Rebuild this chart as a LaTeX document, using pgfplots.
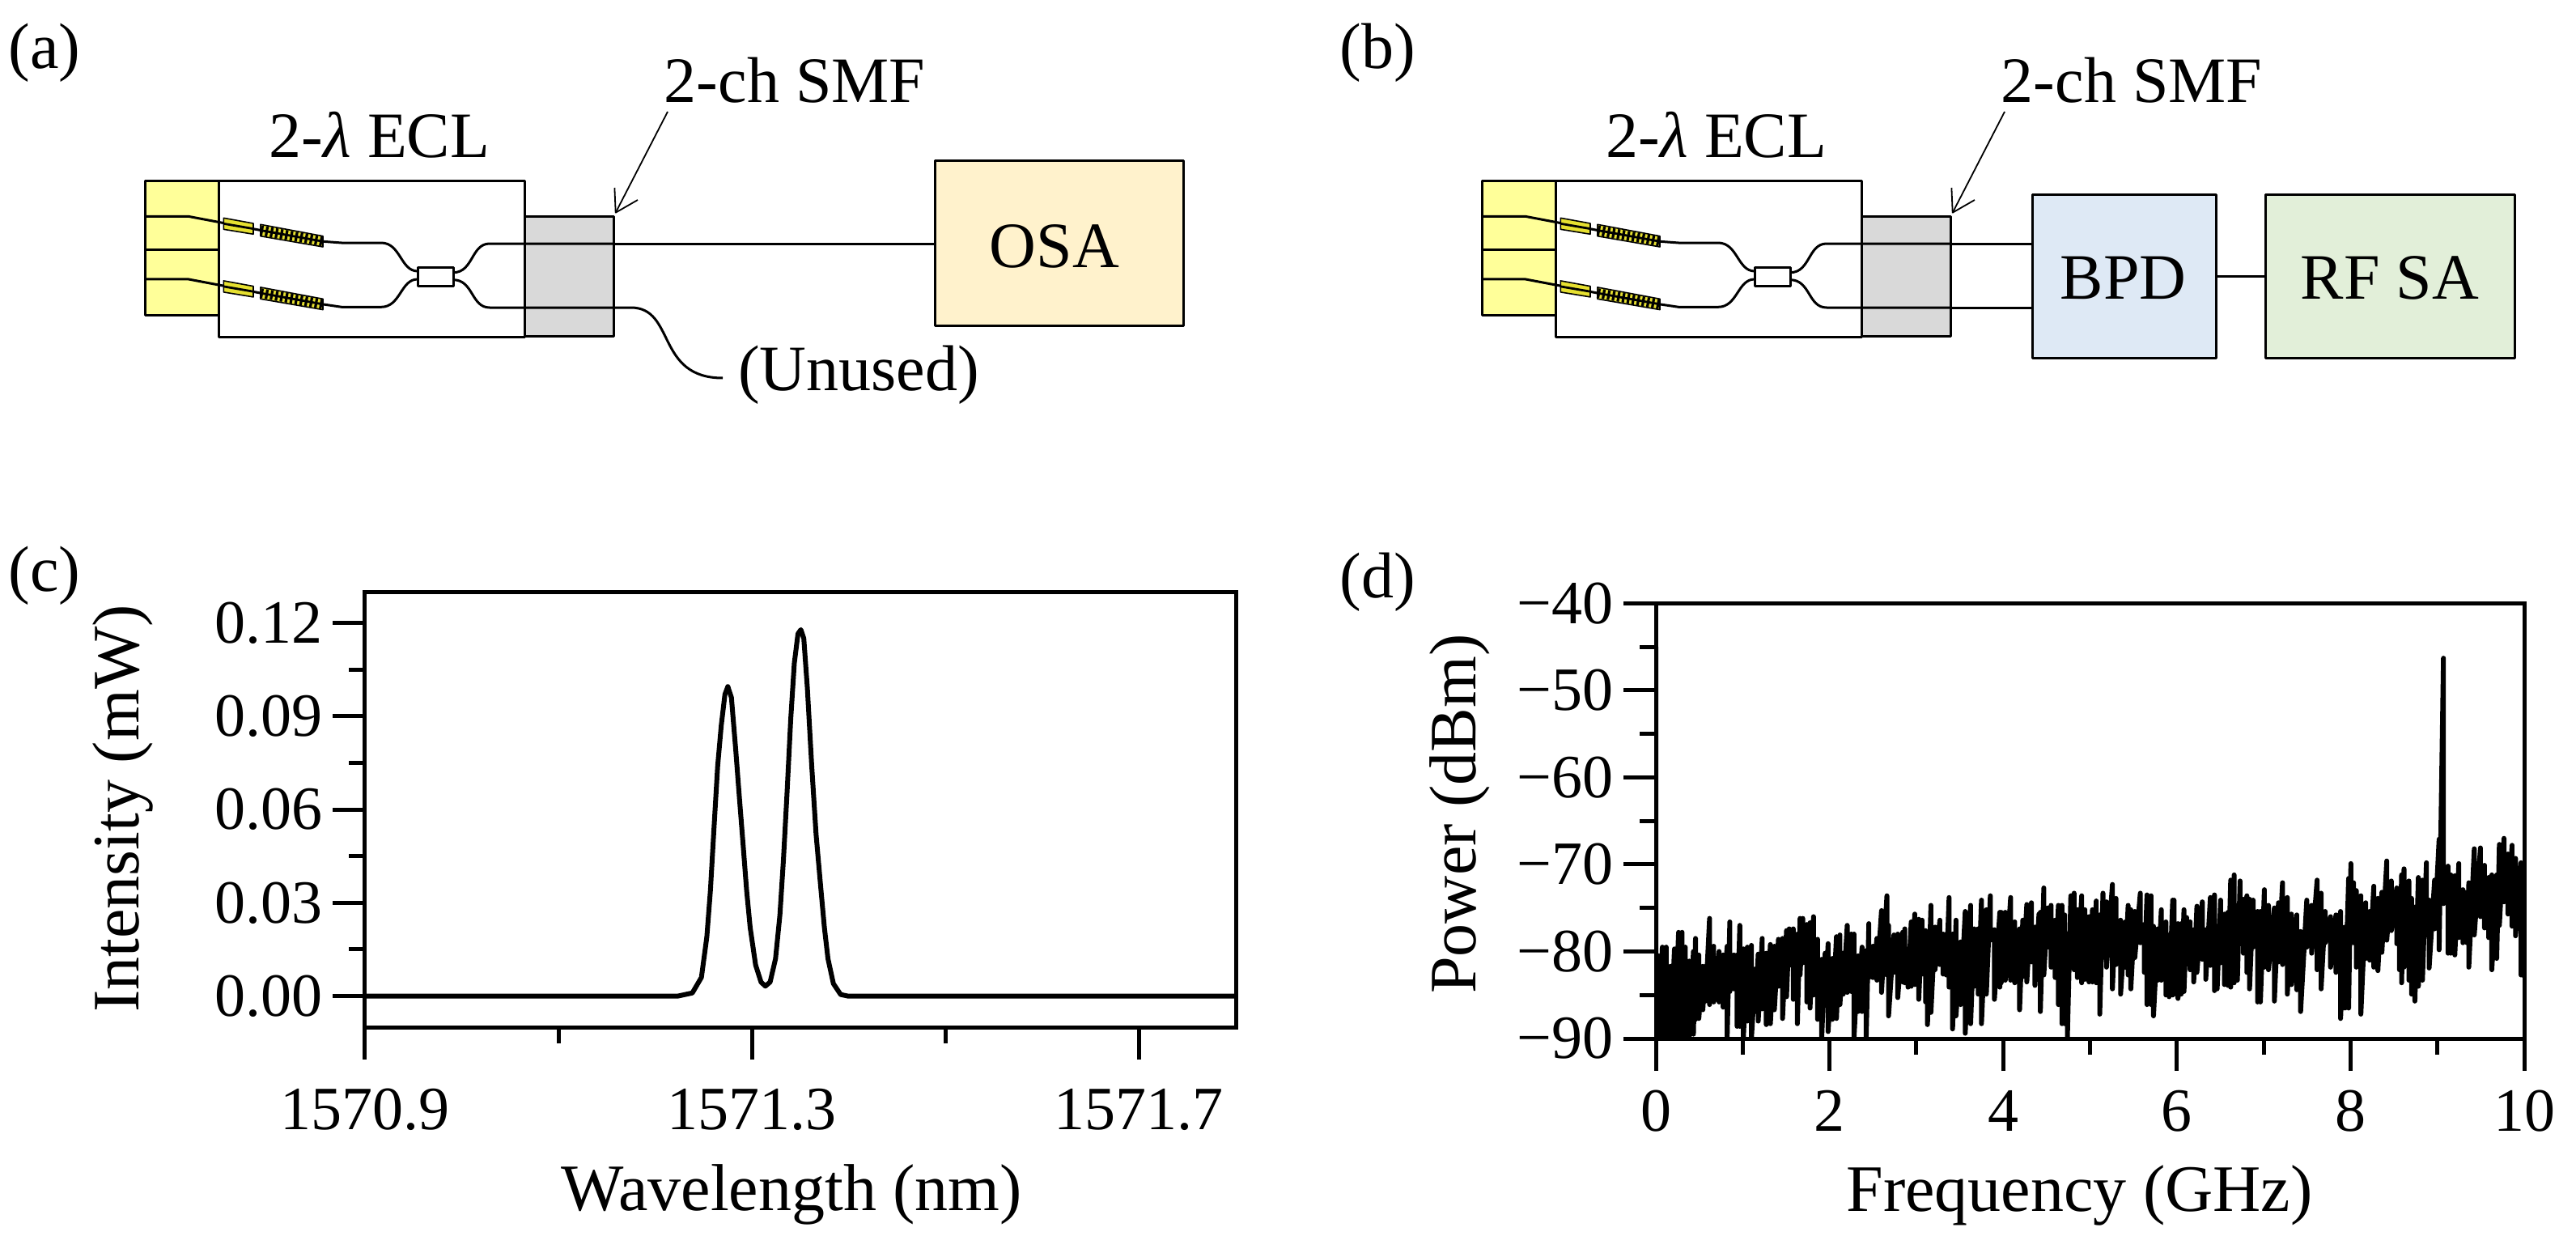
\documentclass[border=0pt]{standalone}
\usepackage{pgfplots}
\pgfplotsset{compat=1.18}
\usepackage{fontspec}
\setmainfont{Liberation Serif}
\definecolor{ylw}{HTML}{FFFF99}
\definecolor{gry}{HTML}{D9D9D9}
\definecolor{osa}{HTML}{FFF2CC}
\definecolor{bpd}{HTML}{DEE9F5}
\definecolor{rfs}{HTML}{E2EFD9}
\definecolor{mod}{HTML}{E6E030}
\newcommand{\sfont}{\fontsize{20}{24}\selectfont}
\newcommand{\modpair}[1]{%
 \begin{scope}[yshift=#1]
  \draw (179,267.3)--(232.6,267.3)--(276,275.5)--(322,284.5);
  \fill[mod] (276.3,269.3)--(313,276)--(313,289.3)--(276.3,283.3)--cycle;
  \draw[line width=0.4pt] (276.3,269.3)--(313,276)--(313,289.3)--(276.3,283.3)--cycle;
  \draw[line width=0.7pt] (276.3,276.3)--(313,282.6);
  \fill[mod] (321.9,277.3)--(399,291.7)--(399,305)--(321.9,291.7)--cycle;
  \draw[line width=3pt,dash pattern=on 0.8pt off 0.75pt] (321.9,284.5)--(399,298.3);
  \draw[line width=0.7pt] (321.9,284.5)--(399,298.3);
  \draw[line width=0.4pt] (321.9,277.3)--(399,291.7)--(399,305)--(321.9,291.7)--cycle;
 \end{scope}}
\newcommand{\schem}{%
  \fill[ylw] (179,223) rectangle (270.5,389);
  \draw (179,223) rectangle (270.5,389);
  \draw (179,308)--(270.5,308);
  \draw[fill=white] (270.5,223) rectangle (648.7,416);
  \draw[fill=gry] (648.7,267.7) rectangle (758,415.3);
  \modpair{0pt}
  \modpair{-19.4pt}
  \draw (399,298.3)--(422,300)--(471,300) .. controls (495,300) and (495,335) .. (516,335);
  \draw (399,375.9)--(422,379.3)--(471,379.3) .. controls (495,379.3) and (495,345) .. (516,345);
  \draw[fill=white] (516,330) rectangle (560,353.3);
  \draw (560,336.7) .. controls (585,336.7) and (582,301) .. (605,301)--(758,301);
  \draw (560,345.7) .. controls (585,345.7) and (582,380) .. (605,380)--(758,380);
  \node[font=\sfont] at (469,167) {2-{\itshape λ} ECL};
  \node[font=\sfont] at (982,99) {2-ch SMF};
}
\newcommand{\arr}[1]{%
  \begin{scope}[xshift=#1]
  \draw[line width=0.45pt] (825,138)--(760.7,262.7);
  \draw[line width=0.45pt] (759.4,232)--(760.7,262.7)--(788,247);
  \end{scope}}
\begin{document}
\begin{tikzpicture}
\path[use as bounding box] (0,0) rectangle (795.75pt,386.75pt);
\begin{scope}[x=0.25pt,y=-0.25pt,yshift=386.75pt,line width=0.75pt,line join=round]
  \schem
  \arr{0pt}
  \draw (758,301)--(1155,301);
  \draw (758,380)--(779.5,380) .. controls (835,380) and (810,467) .. (893,467);
  \node[font=\sfont,fill=white,inner sep=1pt] at (1061,463) {(Unused)};
  \draw[fill=osa] (1155,198) rectangle (1462,402);
  \node[font=\sfont] at (1303,304) {OSA};
  \begin{scope}[xshift=413pt]
    \schem
    \draw (758,301)--(860,301);
    \draw (758,380)--(860,380);
  \end{scope}
  \arr{413pt}
  \draw[fill=bpd] (2511.7,240) rectangle (2738.8,442.7);
  \node[font=\sfont] at (2623.6,343) {BPD};
  \draw[fill=rfs] (2799.7,240) rectangle (3107.4,442.7);
  \node[font=\sfont] at (2952.8,343) {RF SA};
  \draw (2738.8,341)--(2799.7,341);
  \node[font=\sfont,anchor=west,inner sep=0pt] at (9,65) {(a)};
  \node[font=\sfont,anchor=west,inner sep=0pt] at (1654,65) {(b)};
  \node[font=\sfont,anchor=west,inner sep=0pt] at (9,711) {(c)};
  \node[font=\sfont,anchor=west,inner sep=0pt] at (1654,719) {(d)};
\end{scope}
\pgfplotsset{
  every axis/.append style={
    scale only axis, anchor=south west,
    axis line style={line width=1.25pt},
    tick align=outside, tick pos=left,
    major tick length=10pt, minor tick length=5pt,
    every tick/.style={black,line width=1.25pt},
    every minor tick/.style={black,line width=1.25pt},
    tick label style={font=\fontsize{19}{23}\selectfont},
    y tick label style={inner sep=0pt},
    yticklabel style={xshift=-3pt},
  }
}
\begin{axis}[
  at={(112.75pt,69.5pt)}, width=269pt, height=134.5pt,
  xmin=1570.9, xmax=1571.8, ymin=-0.01, ymax=0.13,
  xtick={1570.9,1571.3,1571.7}, xticklabels={1570.9,1571.3,1571.7},
  minor xtick={1571.1,1571.5},
  ytick={0,0.03,0.06,0.09,0.12}, yticklabels={0.00,0.03,0.06,0.09,0.12},
  minor ytick={0.015,0.045,0.075,0.105},
  xticklabel style={yshift=-5.5pt},
  xlabel={Wavelength (nm)}, ylabel={Intensity (mW)},
  every axis x label/.style={at={(axis description cs:0.49,-0.385)},anchor=center,font=\fontsize{20.5}{24}\selectfont},
  every axis y label/.style={at={(axis description cs:-0.278,0.502)},anchor=center,rotate=90,font=\fontsize{20.5}{24}\selectfont},
]
\addplot[black,line width=1.5pt,line join=round] coordinates {
(1570.9,0)(1571.2234,0)(1571.2383,0.001)(1571.2477,0.006)(1571.2533,0.019)(1571.2570,0.034)
(1571.2607,0.054)(1571.2645,0.074)(1571.2682,0.087)(1571.2720,0.097)(1571.2750,0.0995)
(1571.2787,0.096)(1571.2832,0.079)(1571.2869,0.064)(1571.2907,0.049)(1571.2944,0.034)
(1571.2981,0.022)(1571.3037,0.010)(1571.3093,0.0045)(1571.3138,0.0032)(1571.3187,0.0045)
(1571.3243,0.012)(1571.3288,0.026)(1571.3325,0.044)(1571.3363,0.066)(1571.3400,0.089)
(1571.3437,0.107)(1571.3475,0.1165)(1571.3505,0.1178)(1571.3535,0.115)(1571.3572,0.099)
(1571.3617,0.074)(1571.3662,0.052)(1571.3710,0.035)(1571.3748,0.022)(1571.3785,0.012)
(1571.3841,0.004)(1571.3916,0.0005)(1571.3991,0)(1571.8,0)
};
\end{axis}
\begin{axis}[
  at={(511.5pt,66pt)}, width=268.25pt, height=134.4pt,
  xmin=0, xmax=10, ymin=-90, ymax=-40,
  xtick={0,2,4,6,8,10}, xticklabels={0,2,4,6,8,10},
  minor xtick={1,3,5,7,9},
  ytick={-90,-80,-70,-60,-50,-40}, yticklabels={−90,−80,−70,−60,−50,−40},
  minor ytick={-85,-75,-65,-55,-45},
  xticklabel style={yshift=-2.5pt},
  xlabel={Frequency (GHz)}, ylabel={Power (dBm)},
  every axis x label/.style={at={(axis description cs:0.488,-0.361)},anchor=center,font=\fontsize{20.5}{24}\selectfont},
  every axis y label/.style={at={(axis description cs:-0.226,0.516)},anchor=center,rotate=90,font=\fontsize{20.5}{24}\selectfont},
]
\addplot[black,line width=1.5pt,line join=round] coordinates {
(0,-45)(0,-90)(0.03,-80.5)(0.03,-90)(0.075,-79.5)(0.075,-90)(0.12,-79.5)(0.12,-90)(0.168,-81.7)(0.168,-90)
(0.215,-79.7)(0.215,-90)(0.262,-77.8)(0.262,-90)(0.302,-77.8)(0.302,-90)(0.339,-79.5)(0.339,-89.8)
(0.386,-81.1)(0.386,-89.8)(0.433,-80.0)(0.433,-89.5)(0.457,-78.5)(0.457,-87.8)(0.495,-80.4)(0.495,-87.7)
(0.541,-81.7)(0.541,-86.7)(0.572,-81.7)(0.572,-85.7)(0.619,-76.2)(0.619,-86.1)(0.666,-79.4)(0.666,-85.8)
(0.697,-80.8)(0.697,-85.5)(0.728,-80.0)(0.728,-85.8)(0.775,-80.4)(0.775,-86.4)(0.821,-79.4)(0.821,-90)
(0.852,-76.6)(0.852,-84.6)(0.899,-80.4)(0.899,-84.3)(0.936,-80.4)(0.936,-88.6)(0.967,-77.0)(0.967,-88.6)
(1.008,-79.7)(1.008,-90)(1.054,-79.5)(1.054,-88.0)(1.101,-79.3)(1.101,-90)(1.148,-82.0)(1.148,-86.9)
(1.179,-80.3)(1.179,-88.0)(1.225,-78.5)(1.225,-86.6)(1.272,-80.2)(1.272,-88.4)(1.319,-79.2)(1.319,-88.3)
(1.365,-79.4)(1.365,-86.7)(1.412,-78.6)(1.412,-84.0)(1.459,-78.5)(1.459,-87.7)(1.505,-77.6)(1.505,-85.2)
(1.536,-77.4)(1.536,-81.6)(1.583,-77.4)(1.583,-85.5)(1.63,-78.0)(1.63,-88.3)(1.661,-76.2)(1.661,-82.7)
(1.692,-76.2)(1.692,-81.3)(1.739,-76.9)(1.739,-85.8)(1.776,-76.7)(1.776,-86.5)(1.816,-76.0)(1.816,-85.0)
(1.863,-78.6)(1.863,-87.8)(1.91,-80.9)(1.91,-90)(1.95,-80.2)(1.95,-85.8)
(1.984,-79.1)(1.984,-89.2)(2.033,-80.8)(2.033,-87.8)(2.08,-78.3)(2.08,-87.7)(2.12,-78.1)(2.12,-86.1)
(2.158,-80.2)(2.158,-84.9)(2.204,-77.0)(2.204,-84.7)(2.251,-78.0)(2.251,-84.6)(2.282,-78.0)(2.282,-90)
(2.329,-80.5)(2.329,-86.9)(2.375,-79.5)(2.375,-86.9)(2.422,-79.9)(2.422,-90)(2.453,-76.8)(2.453,-83.0)
(2.5,-79.4)(2.5,-83.0)(2.546,-78.5)(2.546,-83.3)(2.599,-75.3)(2.599,-84.7)(2.661,-73.6)(2.661,-82.7)
(2.68,-77)(2.68,-87.4)(2.742,-78.1)(2.742,-82.4)(2.786,-78.0)(2.786,-85.3)(2.842,-77.8)(2.842,-83.5)
(2.867,-77.4)(2.867,-83.6)(2.904,-79.7)(2.904,-84.1)(2.941,-76.6)(2.941,-84)(2.982,-75.7)(2.982,-83.8)
(3.028,-76.3)(3.028,-85.5)(3.066,-76.4)(3.066,-82.6)(3.106,-77.6)(3.106,-85.8)(3.128,-80.9)(3.128,-88.4)
(3.168,-74.7)(3.168,-87.0)(3.215,-77.2)(3.215,-82.1)(3.271,-76.4)(3.271,-81.5)(3.308,-78.0)(3.308,-82.6)
(3.345,-78.0)(3.345,-82.7)(3.377,-73.8)(3.377,-84.1)(3.417,-78.0)(3.417,-88.9)(3.457,-76.4)(3.457,-87.4)
(3.51,-78.9)(3.51,-86.1)(3.563,-75.4)(3.563,-89.4)(3.625,-74.7)(3.625,-88.3)(3.666,-77.4)(3.666,-84)
(3.712,-77.4)(3.712,-84.9)(3.75,-74.1)(3.75,-88.3)(3.806,-75.2)(3.806,-84.9)(3.852,-73.6)(3.852,-78.7)
(3.899,-77.5)(3.899,-85.5)(3.961,-75.5)(3.961,-84.1)
(3.977,-75.5)(3.977,-83.6)(4.024,-75.5)(4.024,-83.3)(4.086,-73.8)(4.086,-83.3)(4.133,-76.6)(4.133,-83.6)
(4.189,-77.4)(4.189,-86.7)(4.226,-76.4)(4.226,-82.9)(4.272,-74.6)(4.272,-83.5)(4.325,-74.4)(4.325,-81.2)
(4.366,-77.2)(4.366,-83.9)(4.412,-75.7)(4.412,-81.0)(4.428,-75.5)(4.428,-86.9)(4.468,-72.7)(4.468,-82.7)
(4.512,-75.0)(4.512,-79.5)(4.552,-74.7)(4.552,-81.8)(4.599,-76.4)(4.599,-83.0)(4.636,-74.7)(4.636,-86.1)
(4.677,-74.7)(4.677,-88.3)(4.708,-75.8)(4.708,-88.3)(4.739,-78.0)(4.739,-90)(4.779,-73.6)(4.779,-80.7)
(4.817,-73.3)(4.817,-82.1)(4.854,-75.2)(4.854,-83.0)(4.904,-73.6)(4.904,-83.6)(4.941,-75.2)(4.941,-83.2)
(4.988,-76.0)(4.988,-83.5)(5.028,-75.2)(5.028,-83.5)(5.072,-74.2)(5.072,-83.6)(5.112,-75.8)(5.112,-87.2)
(5.149,-73.3)(5.149,-80.7)(5.19,-74.3)(5.19,-81.8)(5.258,-72.3)(5.258,-84.3)(5.299,-73.9)(5.299,-81.5)
(5.352,-76.4)(5.352,-84.9)(5.407,-76.6)(5.407,-81.8)(5.439,-74.7)(5.439,-82.7)(5.47,-75.2)(5.47,-84.3)
(5.516,-75.4)(5.516,-80.7)(5.579,-73.3)(5.579,-79)(5.625,-76.9)(5.625,-82.4)(5.656,-73.5)(5.656,-86.1)
(5.703,-73.6)(5.703,-86.1)(5.731,-77.1)(5.731,-87.4)(5.781,-77.4)(5.781,-83.3)(5.821,-75.2)(5.821,-83.3)
(5.874,-76.6)(5.874,-85.0)(5.911,-78.1)(5.911,-85.2)(5.952,-74.1)(5.952,-85.0)
(5.967,-74.1)(5.967,-84.9)(6.013,-76.8)(6.013,-85.4)(6.05,-76.8)(6.05,-84.9)(6.082,-75.2)(6.082,-84.6)
(6.113,-76.1)(6.113,-80.2)(6.153,-76.6)(6.153,-82.1)(6.194,-77.5)(6.194,-83.5)(6.231,-74.8)(6.231,-82.4)
(6.293,-74.3)(6.293,-80.9)(6.333,-77.5)(6.333,-83.2)(6.386,-73.8)(6.386,-81.6)(6.433,-73.5)(6.433,-84.5)
(6.464,-78.3)(6.464,-84.3)(6.504,-74.1)(6.504,-81.3)(6.548,-75.7)(6.548,-83.8)(6.588,-75.5)(6.588,-83.9)
(6.62,-71.8)(6.62,-84.1)(6.66,-71.2)(6.66,-83.6)(6.697,-74.7)(6.697,-83.3)(6.728,-71.9)(6.728,-77.7)
(6.766,-74.0)(6.766,-80.2)(6.806,-73.6)(6.806,-82.4)(6.837,-74.0)(6.837,-84.3)(6.878,-74.1)(6.878,-79.5)
(6.93,-75.4)(6.93,-85.8)(6.962,-75.4)(6.962,-85.8)(7.008,-72.9)(7.008,-81.8)(7.055,-74.7)(7.055,-82.1)
(7.123,-75.0)(7.123,-85.7)(7.17,-74.4)(7.17,-81.2)(7.217,-72.1)(7.217,-81.5)(7.272,-73.8)(7.272,-84.9)
(7.319,-75.7)(7.319,-83.8)(7.381,-75.8)(7.381,-84.4)(7.425,-77.7)(7.425,-86.9)(7.496,-74.1)(7.496,-79.5)
(7.552,-74.7)(7.552,-80.2)(7.615,-71.8)(7.615,-82.1)(7.661,-73.3)(7.661,-84.3)(7.708,-75.4)(7.708,-79)
(7.77,-76)(7.77,-81.8)(7.832,-75.8)(7.832,-82.4)(7.885,-75.4)(7.885,-87.7)(7.935,-77.2)(7.935,-86.5)
(7.978,-71.6)(7.978,-86.5)
(8.004,-69.9)(8.004,-78.7)(8.035,-72.1)(8.035,-79)(8.066,-73.0)(8.066,-81.8)(8.119,-73.6)(8.119,-87.2)
(8.175,-74.4)(8.175,-80.8)(8.221,-75.4)(8.221,-81)(8.268,-72.5)(8.268,-81.8)(8.315,-73.9)(8.315,-82.2)
(8.361,-73.2)(8.361,-80.1)(8.417,-69.6)(8.417,-78.7)(8.47,-71.9)(8.47,-77.6)(8.532,-72.7)(8.532,-79.1)
(8.563,-73.0)(8.563,-82.1)(8.588,-71.2)(8.588,-83.6)(8.616,-70.5)(8.616,-81.8)(8.672,-71.9)(8.672,-83.3)
(8.703,-73.9)(8.703,-84.9)(8.741,-74.9)(8.741,-85.7)(8.781,-71.5)(8.781,-84)(8.828,-71.8)(8.828,-83.3)
(8.874,-69.8)(8.874,-78.1)(8.905,-74.1)(8.905,-81.9)(8.968,-71.8)(8.968,-77.4)(9.02,-67.1)(9.02,-79.8)
(9.07,-46.3)(9.07,-74.5)(9.123,-70.2)(9.123,-80.2)(9.154,-71.2)(9.154,-80.2)(9.201,-71.3)(9.201,-80.4)
(9.247,-69.9)(9.247,-78.4)(9.294,-72.9)(9.294,-79)(9.341,-73.2)(9.341,-79)(9.362,-72.1)(9.362,-81.8)
(9.425,-68.2)(9.425,-78.1)(9.496,-68.1)(9.496,-76)(9.543,-70.1)(9.543,-77.3)(9.59,-71.5)(9.59,-78.4)
(9.627,-71.2)(9.627,-82.1)(9.683,-71.2)(9.683,-80.8)(9.714,-67.7)(9.714,-77)(9.767,-67)(9.767,-74.3)
(9.813,-68.8)(9.813,-75.7)(9.86,-67.8)(9.86,-77.1)(9.9,-69.3)(9.9,-78.2)(9.963,-69.8)(9.963,-82.7)
(10,-70)(10,-83)
};
\end{axis}
\end{tikzpicture}
\end{document}
